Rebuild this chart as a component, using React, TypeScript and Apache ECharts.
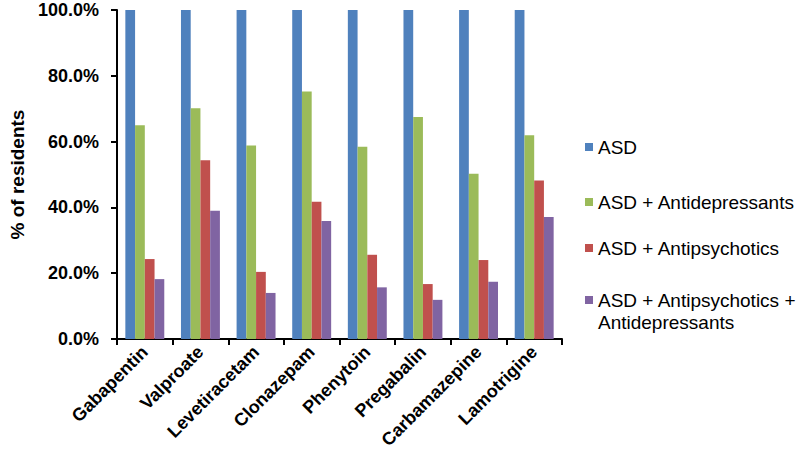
import React, { useEffect, useRef } from "react";
import * as echarts from "echarts";

const categories = ["Gabapentin", "Valproate", "Levetiracetam", "Clonazepam", "Phenytoin", "Pregabalin", "Carbamazepine", "Lamotrigine"];
const seriesNames = ["ASD", "ASD + Antidepressants", "ASD + Antipsychotics", "ASD + Antipsychotics +\nAntidepressants"];
const asd = [100, 100, 100, 100, 100, 100, 100, 100];
const asdAntidep = [65.0, 70.1, 58.8, 75.2, 58.4, 67.5, 50.2, 61.9];
const asdAntipsy = [24.3, 54.3, 20.4, 41.7, 25.6, 16.7, 24.0, 48.2];
const asdBoth = [18.2, 39.0, 14.0, 35.9, 15.7, 11.9, 17.4, 37.1];
const colors = ["#4F81BD", "#9BBB59", "#C0504D", "#8064A2"];
const yTicks = [0, 20, 40, 60, 80, 100];

export default function App() {
  const ref = useRef<HTMLDivElement>(null);
  useEffect(() => {
    if (!ref.current) return;
    const chart = echarts.init(ref.current, null, { renderer: "svg" });
    const data = [asd, asdAntidep, asdAntipsy, asdBoth];
    const legendY = [147, 202, 248, 300];
    const graphic: any[] = [];
    seriesNames.forEach((n, i) => {
      graphic.push({ type: "rect", shape: { x: 585, y: legendY[i] - 4, width: 8, height: 8 }, style: { fill: colors[i] } });
      graphic.push({
        type: "text", x: 598, y: legendY[i] - 11,
        style: { text: n, fill: "#000", font: "19px 'Liberation Sans', Arial, sans-serif", lineHeight: 22, textVerticalAlign: "top" },
      });
    });
    chart.setOption({
      animation: false,
      textStyle: { fontFamily: "'Liberation Sans', Arial, sans-serif" },
      grid: { left: 106, right: 238, top: 10, bottom: 123, containLabel: false },
      graphic,
      xAxis: {
        type: "category",
        data: categories,
        axisLine: { lineStyle: { color: "#000", width: 2 } },
        axisTick: { show: true, length: 6, lineStyle: { color: "#000", width: 2 } },
        axisLabel: { rotate: 45, color: "#000", fontWeight: "bold", fontSize: 18, margin: 10, interval: 0 },
      },
      yAxis: {
        type: "value",
        min: 0, max: 100, interval: 20,
        name: "% of residents",
        nameLocation: "middle",
        nameGap: 90,
        nameTextStyle: { color: "#000", fontWeight: "bold", fontSize: 19 },
        axisLine: { show: true, lineStyle: { color: "#000", width: 2 } },
        axisTick: { show: true, length: 6, lineStyle: { color: "#000", width: 2 } },
        splitLine: { show: false },
        axisLabel: {
          color: "#000", fontWeight: "bold", fontSize: 18, margin: 18,
          formatter: (v: number) => (yTicks.includes(v) ? v.toFixed(1) + "%" : ""),
        },
      },
      series: data.map((d, i) => ({
        type: "bar",
        name: seriesNames[i],
        data: d,
        barGap: "0%",
        barCategoryGap: "30%",
        itemStyle: { color: colors[i] },
      })),
    });
    return () => chart.dispose();
  }, []);
  return <div ref={ref} style={{ position: "absolute", left: 0, top: 0, width: 800, height: 462 }} />;
}
